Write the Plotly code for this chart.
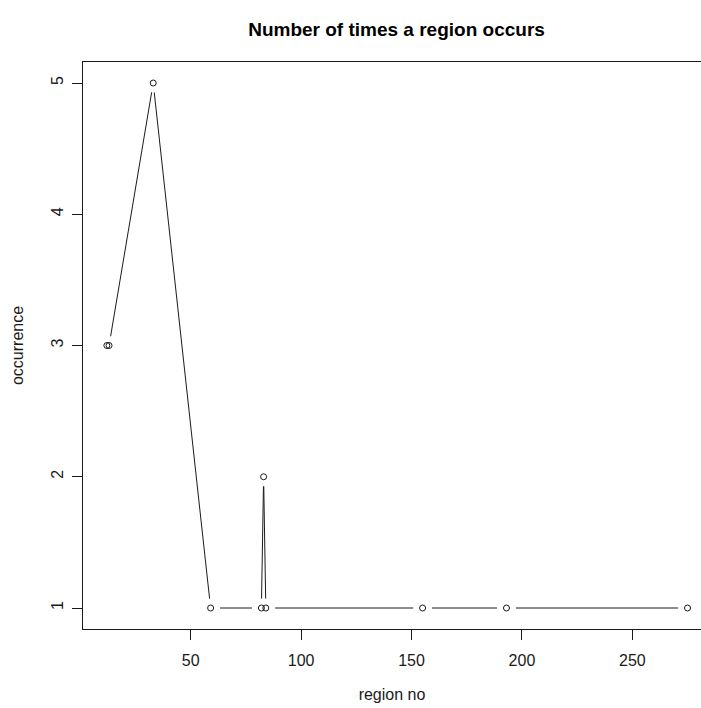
import plotly.graph_objects as go

region_no = [12, 13, 33, 59, 82, 83, 84, 155, 193, 275]
occurrence = [3, 3, 5, 1, 1, 2, 1, 1, 1, 1]
x_ticks = [50, 100, 150, 200, 250]
y_ticks = [1, 2, 3, 4, 5]

FONT = "Liberation Sans, Arial, sans-serif"
INK = "#1a1a1a"

fig = go.Figure()
# connecting line
fig.add_trace(go.Scatter(x=region_no, y=occurrence, mode="lines",
                         line=dict(color=INK, width=1), hoverinfo="skip",
                         showlegend=False))
# white masks to create the gaps of R's type="b"
fig.add_trace(go.Scatter(x=region_no, y=occurrence, mode="markers",
                         marker=dict(symbol="circle", size=19, color="white",
                                     line=dict(width=0)),
                         hoverinfo="skip", showlegend=False))
# open circle points
fig.add_trace(go.Scatter(x=region_no, y=occurrence, mode="markers",
                         marker=dict(symbol="circle-open", size=6, color=INK,
                                     line=dict(width=1, color=INK)),
                         showlegend=False))

fig.update_layout(
    width=701, height=708,
    margin=dict(l=83, r=0, t=62, b=79),
    paper_bgcolor="white", plot_bgcolor="white",
    font=dict(family=FONT, size=16, color=INK),
    title=dict(text="<b>Number of times a region occurs</b>",
               x=396.5 / 701, xanchor="center", y=1 - 29 / 708, yanchor="middle",
               font=dict(family=FONT, size=19, color="#000000")),
)
fig.update_xaxes(range=[1.2, 281.1], tickvals=x_ticks, ticktext=[str(v) for v in x_ticks],
                 showgrid=False, zeroline=False, showline=True, linecolor=INK,
                 linewidth=1, mirror=True, ticks="outside", ticklen=10, tickwidth=1,
                 tickcolor=INK, ticklabelstandoff=7,
                 title=dict(text="region no", standoff=20, font=dict(size=16)))
fig.update_yaxes(range=[0.84, 5.16], tickvals=y_ticks, ticktext=[str(v) for v in y_ticks],
                 showgrid=False, zeroline=False, showline=True, linecolor=INK,
                 linewidth=1, mirror=False, ticks="outside", ticklen=10, tickwidth=1,
                 tickcolor=INK, tickangle=-90, ticklabelstandoff=3,
                 title=dict(text="occurrence", standoff=20, font=dict(size=16)))

fig.write_html(
    "out.html",
    config={"displayModeBar": False},
    post_script="document.body.style.margin='0';document.body.style.overflow='hidden';",
)
